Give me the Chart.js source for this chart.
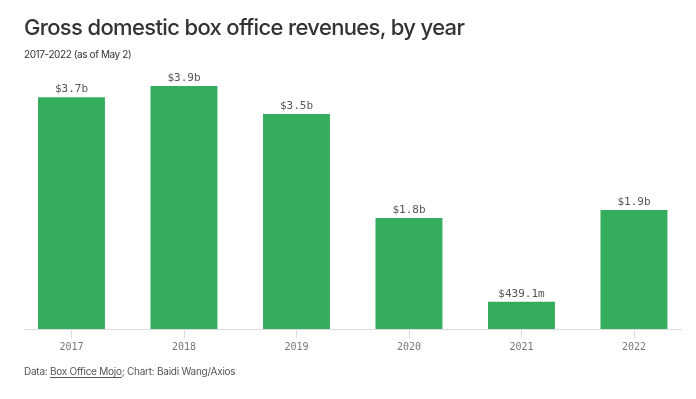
<!DOCTYPE html>
<html>
<head>
<meta charset="utf-8">
<script src="https://cdn.jsdelivr.net/npm/chart.js@4"></script>
<style>
  html, body { margin: 0; padding: 0; background: #fff; }
  body { width: 696px; height: 399px; position: relative; overflow: hidden; font-family: Inter, 'Noto Sans', sans-serif; }
  #wrap { position: absolute; left: 0; top: 0; width: 696px; height: 399px; }
  .title { position: absolute; left: 24px; top: 13px; font-size: 22px; font-weight: 500; color: #333; letter-spacing: -0.65px; line-height: 28px; white-space: nowrap; }
  .subtitle { position: absolute; left: 24px; top: 48px; font-size: 10px; color: #333; letter-spacing: -0.4px; line-height: 13px; white-space: nowrap; }
  .footer { position: absolute; left: 24px; top: 365px; font-size: 10px; color: #555; letter-spacing: -0.25px; line-height: 13px; white-space: nowrap; }
  .footer a { color: #555; text-decoration: underline; text-underline-offset: 2px; }
</style>
</head>
<body>
<div id="wrap"><canvas id="chart"></canvas></div>
<div class="title">Gross domestic box office revenues, by year</div>
<div class="subtitle">2017-2022 (as of May 2)</div>
<div class="footer">Data: <a>Box Office Mojo</a>; Chart: Baidi Wang/Axios</div>
<script>
const years = [2017, 2018, 2019, 2020, 2021, 2022];
const revenue = [3.72, 3.9, 3.45, 1.78, 0.4391, 1.91]; // billions of dollars
const valueLabels = ['$3.7b', '$3.9b', '$3.5b', '$1.8b', '$439.1m', '$1.9b'];

// draws the value above every bar
const barLabels = {
  id: 'barLabels',
  afterDatasetsDraw(chart) {
    const ctx = chart.ctx;
    ctx.save();
    ctx.font = '11px "DejaVu Sans Mono", monospace';
    ctx.fillStyle = '#555';
    ctx.textAlign = 'center';
    ctx.textBaseline = 'alphabetic';
    chart.getDatasetMeta(0).data.forEach((bar, i) => {
      ctx.fillText(valueLabels[i], bar.x, bar.y - 5);
    });
    ctx.restore();
  }
};

// baseline across the x range plus small tick marks under each year
const baseAxis = {
  id: 'baseAxis',
  beforeDatasetsDraw(chart) {
    const { ctx, scales } = chart;
    const x = scales.x;
    const y0 = Math.round(scales.y.getPixelForValue(0)) + 0.5;
    ctx.save();
    ctx.strokeStyle = '#ddd';
    ctx.lineWidth = 1;
    ctx.beginPath();
    ctx.moveTo(x.getPixelForValue(x.min), y0);
    ctx.lineTo(x.getPixelForValue(x.max), y0);
    years.forEach(v => {
      const px = Math.round(x.getPixelForValue(v)) + 0.5;
      ctx.moveTo(px, y0);
      ctx.lineTo(px, y0 + 9);
    });
    ctx.stroke();
    ctx.restore();
  }
};

new Chart(document.getElementById('chart'), {
  type: 'bar',
  data: {
    datasets: [{
      data: years.map((y, i) => ({ x: y, y: revenue[i] })),
      backgroundColor: '#34ad5d',
      borderWidth: 0,
      categoryPercentage: 1,
      barPercentage: 0.595
    }]
  },
  options: {
    responsive: true,
    maintainAspectRatio: false,
    animation: false,
    layout: { padding: { left: 24, right: 14, top: 61, bottom: 43 } },
    plugins: {
      legend: { display: false },
      tooltip: { enabled: false }
    },
    scales: {
      x: {
        type: 'linear',
        offset: false,
        min: 2016.578,
        max: 2022.427,
        afterBuildTicks: axis => { axis.ticks = years.map(v => ({ value: v })); },
        grid: { display: false, tickLength: 9 },
        border: { display: false },
        ticks: {
          padding: 3,
          color: '#777',
          font: { family: '"DejaVu Sans Mono", monospace', size: 10 },
          callback: v => String(v)
        }
      },
      y: {
        display: false,
        min: 0,
        max: 4.3
      }
    }
  },
  plugins: [baseAxis, barLabels]
});
</script>
</body>
</html>
